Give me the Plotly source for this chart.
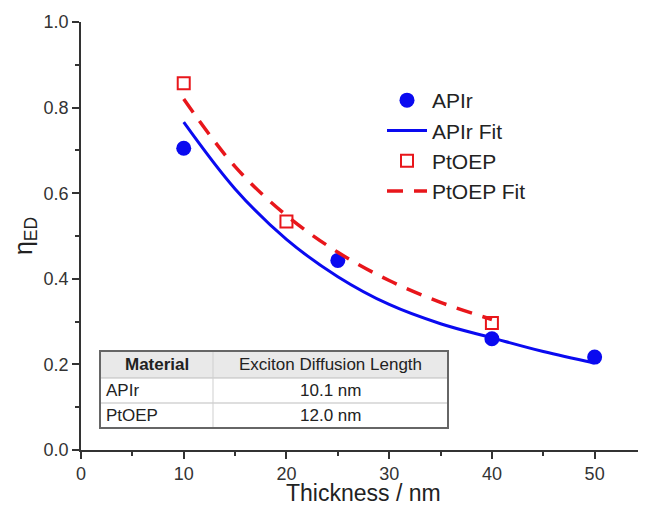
import plotly.graph_objects as go

# ---- data ----
apir_x = [10, 25, 40, 50]
apir_y = [0.705, 0.443, 0.260, 0.217]
ptoep_x = [10, 20, 40]
ptoep_y = [0.857, 0.534, 0.297]

apir_fit_x = [10, 15, 20, 25, 30, 35, 40, 45, 50]
apir_fit_y = [0.766, 0.610, 0.492, 0.405, 0.340, 0.295, 0.262, 0.230, 0.203]
ptoep_fit_x = [10, 15, 20, 25, 30, 35, 40]
ptoep_fit_y = [0.820, 0.662, 0.548, 0.462, 0.396, 0.345, 0.305]

table_header = ["Material", "Exciton Diffusion Length"]
table_material = ["APIr", "PtOEP"]
table_length = ["10.1 nm", "12.0 nm"]

x_ticks = [0, 10, 20, 30, 40, 50]
y_ticks = [0.0, 0.2, 0.4, 0.6, 0.8, 1.0]
x_title = "Thickness / nm"

BLUE = "#0a0af0"
RED = "#e8161b"
FONT = "Arial, Liberation Sans, sans-serif"

# page has an 8px body margin; compensate so the plot area sits at page 81..646 x 22..450
OFF = 8
W, H = 646 - OFF, 506 - OFF
L, R, T, B = 81 - OFF, 0, 22 - OFF, 506 - 450
PW, PH = W - L - R, H - T - B


def px(x):
    return (x - 81) / PW


def py(y):
    return (450 - y) / PH


fig = go.Figure()

fig.add_trace(go.Scatter(x=apir_x, y=apir_y, mode="markers", name="APIr",
                         marker=dict(symbol="circle", size=15, color=BLUE),
                         legendgroup="a", cliponaxis=False))
fig.add_trace(go.Scatter(x=apir_fit_x, y=apir_fit_y, mode="lines", name="APIr Fit",
                         line=dict(color=BLUE, width=3, shape="spline"),
                         legendgroup="b"))
fig.add_trace(go.Scatter(x=ptoep_x, y=ptoep_y, mode="markers", name="PtOEP",
                         marker=dict(symbol="square-open", size=12, color=RED,
                                     line=dict(width=2, color=RED)),
                         legendgroup="c", cliponaxis=False))
fig.add_trace(go.Scatter(x=ptoep_fit_x, y=ptoep_fit_y, mode="lines", name="PtOEP Fit",
                         line=dict(color=RED, width=3.5, dash="16px,11px", shape="spline"),
                         legendgroup="d"))

# ---- inset table drawn with shapes and annotations ----
tx0, tx1, tdiv = 100, 448, 213
row_edges = [351, 378, 403, 428]
shapes = []
shapes.append(dict(type="rect", xref="paper", yref="paper", x0=px(tx0), x1=px(tx1),
                   y0=py(row_edges[1]), y1=py(row_edges[0]), fillcolor="#e9e9e9",
                   line=dict(width=0), layer="below"))
for ye in row_edges[1:-1]:
    shapes.append(dict(type="line", xref="paper", yref="paper", x0=px(tx0), x1=px(tx1),
                       y0=py(ye), y1=py(ye), line=dict(color="#bdbdbd", width=1)))
shapes.append(dict(type="line", xref="paper", yref="paper", x0=px(tdiv), x1=px(tdiv),
                   y0=py(row_edges[-1]), y1=py(row_edges[0]), line=dict(color="#cfcfcf", width=1)))
shapes.append(dict(type="rect", xref="paper", yref="paper", x0=px(tx0), x1=px(tx1),
                   y0=py(row_edges[-1]), y1=py(row_edges[0]), line=dict(color="#666666", width=2)))

annotations = []
tfont = dict(family=FONT, size=17, color="#222222")
hy = (row_edges[0] + row_edges[1]) / 2
annotations.append(dict(xref="paper", yref="paper", x=px((tx0 + tdiv) / 2), y=py(hy),
                        text="<b>" + table_header[0] + "</b>", showarrow=False, font=tfont,
                        xanchor="center", yanchor="middle"))
annotations.append(dict(xref="paper", yref="paper", x=px((tdiv + tx1) / 2), y=py(hy),
                        text=table_header[1], showarrow=False, font=tfont,
                        xanchor="center", yanchor="middle"))
for i, (m, l) in enumerate(zip(table_material, table_length)):
    cy = (row_edges[i + 1] + row_edges[i + 2]) / 2
    annotations.append(dict(xref="paper", yref="paper", x=px(tx0 + 4), y=py(cy), text=m,
                            showarrow=False, font=tfont, xanchor="left", yanchor="middle"))
    annotations.append(dict(xref="paper", yref="paper", x=px((tdiv + tx1) / 2), y=py(cy), text=l,
                            showarrow=False, font=tfont, xanchor="center", yanchor="middle"))

# x-axis title placed as an annotation for exact vertical placement
annotations.append(dict(xref="paper", yref="paper", x=0.5, y=py(493), text=x_title,
                        showarrow=False, font=dict(family=FONT, size=23, color="#222"),
                        xanchor="center", yanchor="middle", borderpad=0))

axis_common = dict(showline=True, linecolor="#333333", linewidth=1.5, ticks="outside",
                   ticklen=7, tickwidth=1.5, tickcolor="#333333", showgrid=False, zeroline=False,
                   tickfont=dict(family=FONT, size=18, color="#333333"), mirror=False,
                   automargin=False)

fig.update_xaxes(range=[0, 55], tickvals=x_ticks, ticktext=[str(v) for v in x_ticks],
                 minor=dict(dtick=5, ticks="outside", ticklen=4, tickwidth=1.5, tickcolor="#333333"),
                 **axis_common)
fig.update_yaxes(range=[0, 1.0], tickvals=y_ticks, ticktext=[f"{v:.1f}" for v in y_ticks],
                 minor=dict(dtick=0.1, ticks="outside", ticklen=4, tickwidth=1.5, tickcolor="#333333"),
                 title=dict(text="η<sub>ED</sub>", font=dict(family=FONT, size=25, color="#222"),
                            standoff=4),
                 **axis_common)

fig.update_layout(
    width=W, height=H,
    margin=dict(l=L, r=R, t=T, b=B),
    plot_bgcolor="white", paper_bgcolor="white",
    font=dict(family=FONT, color="#222"),
    shapes=shapes, annotations=annotations,
    legend=dict(x=px(382), y=py(80), xanchor="left", yanchor="top",
                font=dict(family=FONT, size=21, color="#222"), bgcolor="rgba(0,0,0,0)",
                tracegroupgap=0, itemwidth=40),
    showlegend=True,
)

fig.write_html("out.html")
